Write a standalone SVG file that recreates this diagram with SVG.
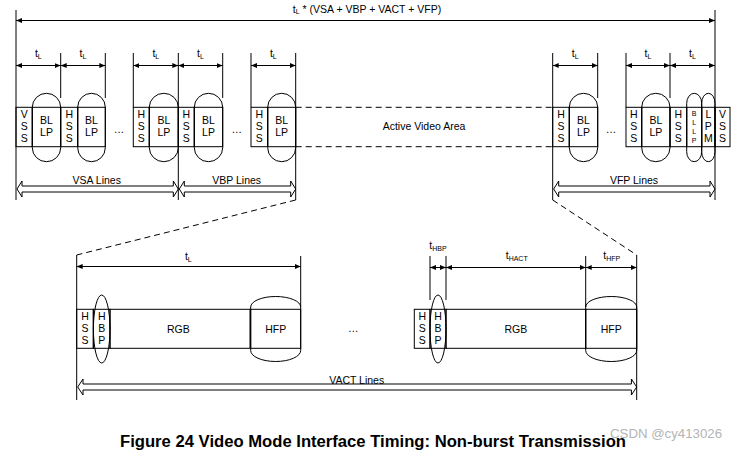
<svg xmlns="http://www.w3.org/2000/svg" width="737" height="451" viewBox="0 0 737 451">
<defs>
<marker id="ah" viewBox="0 0 6 6" refX="6" refY="3" markerWidth="6" markerHeight="6" markerUnits="userSpaceOnUse" orient="auto-start-reverse">
<path d="M0,0.5 L6,3 L0,5.5 z" fill="#000"/>
</marker>
</defs>
<style>
.l{stroke:#000;stroke-width:1;fill:none}
.d{stroke:#000;stroke-width:1;fill:none;stroke-dasharray:6,4}
.a{stroke:#000;stroke-width:1;fill:none;marker-start:url(#ah);marker-end:url(#ah)}
.t{font-family:"Liberation Sans",Arial,sans-serif;font-size:10.5px;fill:#000;text-anchor:middle}
.s{font-size:7px}
.cap{font-family:"Liberation Sans",Arial,sans-serif;font-size:16px;font-weight:bold;fill:#000}
.wm{font-family:"Liberation Sans",Arial,sans-serif;font-size:13.5px;fill:#b4b4b4}
</style>
<rect width="737" height="451" fill="#fff"/>

<g id="connectors">
<line class="l" x1="16" y1="10" x2="16" y2="200"/>
<line class="l" x1="715" y1="10" x2="715" y2="200"/>
<line class="a" x1="16" y1="20.5" x2="715" y2="20.5"/>
<line class="l" x1="60.7" y1="53" x2="60.7" y2="98"/>
<line class="l" x1="105.3" y1="53" x2="105.3" y2="98"/>
<line class="l" x1="133.3" y1="53" x2="133.3" y2="107.3"/>
<line class="l" x1="178.3" y1="53" x2="178.3" y2="200"/>
<line class="l" x1="222.7" y1="53" x2="222.7" y2="98"/>
<line class="l" x1="251" y1="53" x2="251" y2="107.3"/>
<line class="l" x1="295.7" y1="53" x2="295.7" y2="200"/>
<line class="l" x1="552.7" y1="53" x2="552.7" y2="200"/>
<line class="l" x1="597.7" y1="53" x2="597.7" y2="98"/>
<line class="l" x1="626" y1="53" x2="626" y2="107.3"/>
<line class="l" x1="670" y1="53" x2="670" y2="98"/>
<line class="a" x1="16" y1="65.5" x2="60.7" y2="65.5"/>
<line class="a" x1="60.7" y1="65.5" x2="105.3" y2="65.5"/>
<line class="a" x1="133.3" y1="65.5" x2="178.3" y2="65.5"/>
<line class="a" x1="178.3" y1="65.5" x2="222.7" y2="65.5"/>
<line class="a" x1="251" y1="65.5" x2="295.7" y2="65.5"/>
<line class="a" x1="552.7" y1="65.5" x2="597.7" y2="65.5"/>
<line class="a" x1="626" y1="65.5" x2="670" y2="65.5"/>
<line class="a" x1="670" y1="65.5" x2="715" y2="65.5"/>
<line class="d" x1="295.7" y1="107.3" x2="552.7" y2="107.3"/>
<line class="d" x1="295.7" y1="146.7" x2="552.7" y2="146.7"/>
<path class="l" d="M17,189 L22,181 L22,186 L173.3,186 L173.3,181 L178.3,189 L173.3,197 L173.3,192 L22,192 L22,197 Z"/>
<path class="l" d="M179.3,189 L184.3,181 L184.3,186 L290.7,186 L290.7,181 L295.7,189 L290.7,197 L290.7,192 L184.3,192 L184.3,197 Z"/>
<path class="l" d="M553.7,189 L558.7,181 L558.7,186 L710,186 L710,181 L715,189 L710,197 L710,192 L558.7,192 L558.7,197 Z"/>
<line class="d" x1="295.7" y1="200" x2="76.7" y2="255"/>
<line class="d" x1="552.7" y1="200" x2="636.7" y2="255"/>
<line class="l" x1="76.7" y1="255" x2="76.7" y2="400"/>
<line class="l" x1="636.7" y1="255" x2="636.7" y2="400"/>
<line class="l" x1="300.7" y1="256" x2="300.7" y2="307"/>
<line class="l" x1="430" y1="256" x2="430" y2="300"/>
<line class="l" x1="446" y1="256" x2="446" y2="300"/>
<line class="l" x1="585.7" y1="256" x2="585.7" y2="307"/>
<line class="a" x1="76.7" y1="266.5" x2="300.7" y2="266.5"/>
<line class="a" x1="430" y1="267.5" x2="446" y2="267.5"/>
<line class="a" x1="446" y1="267.5" x2="585.7" y2="267.5"/>
<line class="a" x1="585.7" y1="267.5" x2="636.7" y2="267.5"/>
<path class="l" d="M77.7,387 L83,379 L83,384 L631.4,384 L631.4,379 L636.7,387 L631.4,395 L631.4,390 L83,390 L83,395 Z"/>
</g>

<g id="labels">
<text class="t" x="367" y="12.5">t<tspan class="s" dy="1.5">L</tspan><tspan dy="-1.5"> * (VSA + VBP + VACT + VFP)</tspan></text>
<text class="t" x="38.3" y="57">t<tspan class="s" dy="1.5">L</tspan></text>
<text class="t" x="83" y="57">t<tspan class="s" dy="1.5">L</tspan></text>
<text class="t" x="155.8" y="57">t<tspan class="s" dy="1.5">L</tspan></text>
<text class="t" x="200.5" y="57">t<tspan class="s" dy="1.5">L</tspan></text>
<text class="t" x="273.3" y="57">t<tspan class="s" dy="1.5">L</tspan></text>
<text class="t" x="575.2" y="57">t<tspan class="s" dy="1.5">L</tspan></text>
<text class="t" x="648" y="57">t<tspan class="s" dy="1.5">L</tspan></text>
<text class="t" x="692.5" y="57">t<tspan class="s" dy="1.5">L</tspan></text>
<text class="t" x="96.7" y="184">VSA Lines</text>
<text class="t" x="236.7" y="184">VBP Lines</text>
<text class="t" x="634" y="184">VFP Lines</text>
<text class="t" x="424" y="130">Active Video Area</text>
<text class="t" x="119" y="133">…</text>
<text class="t" x="236.7" y="133">…</text>
<text class="t" x="611" y="133">…</text>
<text class="t" x="188.3" y="260">t<tspan class="s" dy="1.5">L</tspan></text>
<text class="t" x="438" y="249">t<tspan class="s" dy="1.5">HBP</tspan></text>
<text class="t" x="516.7" y="259">t<tspan class="s" dy="1.5">HACT</tspan></text>
<text class="t" x="611.7" y="259">t<tspan class="s" dy="1.5">HFP</tspan></text>
<text class="t" x="356.7" y="384">VACT Lines</text>
<text class="t" x="353.3" y="332">…</text>
</g>

<g id="line-vsa-1">
<rect class="l" x="16" y="107.3" width="16.3" height="39.4"/>
<text class="t" x="24.2" y="118">V</text><text class="t" x="24.2" y="130">S</text><text class="t" x="24.2" y="142">S</text>
<rect class="l" x="32.3" y="107.3" width="28.4" height="39.4"/>
<rect class="l" x="32.3" y="93.3" width="28.4" height="68.4" rx="14.2" ry="14"/>
<text class="t" x="46.5" y="124">BL</text><text class="t" x="46.5" y="136">LP</text>
</g>
<g id="line-vsa-2">
<rect class="l" x="60.7" y="107.3" width="17" height="39.4"/>
<text class="t" x="69.2" y="118">H</text><text class="t" x="69.2" y="130">S</text><text class="t" x="69.2" y="142">S</text>
<rect class="l" x="77.7" y="107.3" width="27.6" height="39.4"/>
<rect class="l" x="77.7" y="93.3" width="27.6" height="68.4" rx="13.8" ry="14"/>
<text class="t" x="91.5" y="124">BL</text><text class="t" x="91.5" y="136">LP</text>
</g>
<g id="line-vsa-3">
<rect class="l" x="133.3" y="107.3" width="16" height="39.4"/>
<text class="t" x="141.3" y="118">H</text><text class="t" x="141.3" y="130">S</text><text class="t" x="141.3" y="142">S</text>
<rect class="l" x="149.3" y="107.3" width="29" height="39.4"/>
<rect class="l" x="149.3" y="93.3" width="29" height="68.4" rx="14.5" ry="14"/>
<text class="t" x="163.8" y="124">BL</text><text class="t" x="163.8" y="136">LP</text>
</g>
<g id="line-vbp-1">
<rect class="l" x="178.3" y="107.3" width="16" height="39.4"/>
<text class="t" x="186.3" y="118">H</text><text class="t" x="186.3" y="130">S</text><text class="t" x="186.3" y="142">S</text>
<rect class="l" x="194.3" y="107.3" width="28.4" height="39.4"/>
<rect class="l" x="194.3" y="93.3" width="28.4" height="68.4" rx="14.2" ry="14"/>
<text class="t" x="208.5" y="124">BL</text><text class="t" x="208.5" y="136">LP</text>
</g>
<g id="line-vbp-2">
<rect class="l" x="251" y="107.3" width="16.7" height="39.4"/>
<text class="t" x="259.3" y="118">H</text><text class="t" x="259.3" y="130">S</text><text class="t" x="259.3" y="142">S</text>
<rect class="l" x="267.7" y="107.3" width="28" height="39.4"/>
<rect class="l" x="267.7" y="93.3" width="28" height="68.4" rx="14" ry="14"/>
<text class="t" x="281.7" y="124">BL</text><text class="t" x="281.7" y="136">LP</text>
</g>
<g id="line-vfp-1">
<rect class="l" x="552.7" y="107.3" width="16.6" height="39.4"/>
<text class="t" x="561" y="118">H</text><text class="t" x="561" y="130">S</text><text class="t" x="561" y="142">S</text>
<rect class="l" x="569.3" y="107.3" width="28.4" height="39.4"/>
<rect class="l" x="569.3" y="93.3" width="28.4" height="68.4" rx="14.2" ry="14"/>
<text class="t" x="583.5" y="124">BL</text><text class="t" x="583.5" y="136">LP</text>
</g>
<g id="line-vfp-2">
<rect class="l" x="626" y="107.3" width="15.7" height="39.4"/>
<text class="t" x="633.8" y="118">H</text><text class="t" x="633.8" y="130">S</text><text class="t" x="633.8" y="142">S</text>
<rect class="l" x="641.7" y="107.3" width="28.3" height="39.4"/>
<rect class="l" x="641.7" y="93.3" width="28.3" height="68.4" rx="14.1" ry="14"/>
<text class="t" x="655.8" y="124">BL</text><text class="t" x="655.8" y="136">LP</text>
</g>
<g id="line-vfp-3">
<rect class="l" x="670" y="107.3" width="16.7" height="39.4"/>
<text class="t" x="678.3" y="118">H</text><text class="t" x="678.3" y="130">S</text><text class="t" x="678.3" y="142">S</text>
<rect class="l" x="686.7" y="107.3" width="15" height="39.4"/>
<rect class="l" x="686.7" y="93.3" width="15" height="68.4" rx="7.5" ry="10"/>
<text class="t" x="694.2" y="116" style="font-size:7px">B</text><text class="t" x="694.2" y="125" style="font-size:7px">L</text><text class="t" x="694.2" y="134" style="font-size:7px">L</text><text class="t" x="694.2" y="143" style="font-size:7px">P</text>
<rect class="l" x="701.7" y="107.3" width="13.3" height="39.4"/>
<rect class="l" x="701.7" y="93.3" width="13.3" height="68.4" rx="6.6" ry="10"/>
<text class="t" x="708.3" y="118">L</text><text class="t" x="708.3" y="130">P</text><text class="t" x="708.3" y="142">M</text>
<rect class="l" x="715" y="107.3" width="15" height="39.4"/>
<text class="t" x="722.5" y="118">V</text><text class="t" x="722.5" y="130">S</text><text class="t" x="722.5" y="142">S</text>
</g>

<g id="act-line-1">
<rect class="l" x="76.7" y="309.3" width="16.6" height="39"/>
<text class="t" x="85" y="320">H</text><text class="t" x="85" y="332">S</text><text class="t" x="85" y="344">S</text>
<rect class="l" x="93.3" y="309.3" width="16.7" height="39"/>
<ellipse class="l" cx="101.7" cy="329" rx="8.3" ry="34"/>
<text class="t" x="101.7" y="320">H</text><text class="t" x="101.7" y="332">B</text><text class="t" x="101.7" y="344">P</text>
<rect class="l" x="110" y="309.3" width="140" height="39"/>
<text class="t" x="178.3" y="333">RGB</text>
<rect class="l" x="250.7" y="309.3" width="50" height="39"/>
<path class="l" d="M250.7,307 A25,10.5 0 0 1 300.7,307 L300.7,350.5 A25,11 0 0 1 250.7,350.5 Z"/>
<text class="t" x="275.7" y="333">HFP</text>
</g>
<g id="act-line-2">
<rect class="l" x="414.3" y="309.3" width="15.7" height="39"/>
<text class="t" x="422.2" y="320">H</text><text class="t" x="422.2" y="332">S</text><text class="t" x="422.2" y="344">S</text>
<rect class="l" x="430" y="309.3" width="16" height="39"/>
<ellipse class="l" cx="438" cy="329" rx="8" ry="34"/>
<text class="t" x="438" y="320">H</text><text class="t" x="438" y="332">B</text><text class="t" x="438" y="344">P</text>
<rect class="l" x="446" y="309.3" width="139.7" height="39"/>
<text class="t" x="515.8" y="333">RGB</text>
<rect class="l" x="585.7" y="309.3" width="51" height="39"/>
<path class="l" d="M585.7,307 A25.5,10.5 0 0 1 636.7,307 L636.7,350.5 A25.5,11 0 0 1 585.7,350.5 Z"/>
<text class="t" x="611.2" y="333">HFP</text>
</g>

<text class="cap" x="120" y="447" textLength="506" lengthAdjust="spacingAndGlyphs">Figure 24 Video Mode Interface Timing: Non-burst Transmission</text>
<text class="wm" x="610" y="438" textLength="112" lengthAdjust="spacingAndGlyphs">CSDN @cy413026</text>
</svg>
